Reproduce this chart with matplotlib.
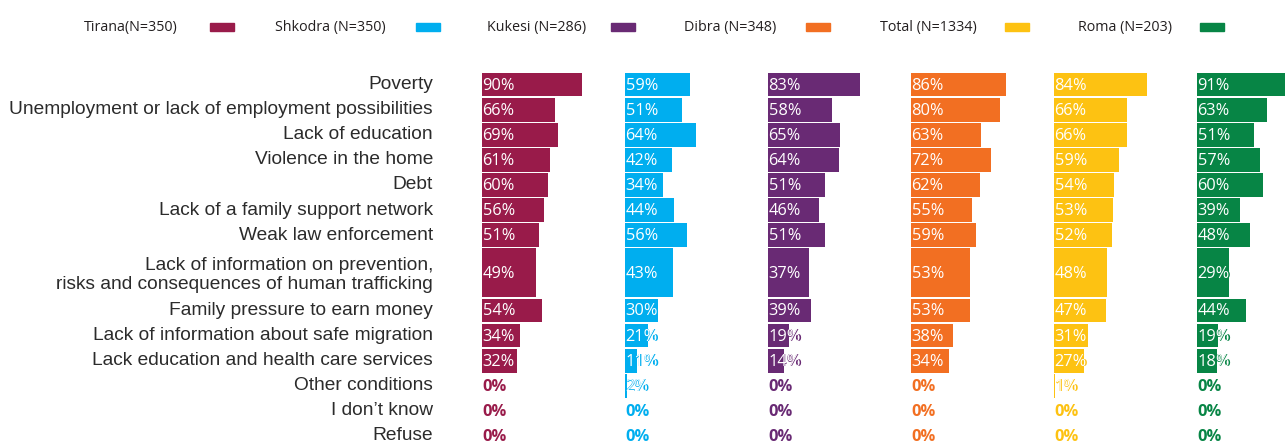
import matplotlib.pyplot as plt
from matplotlib.patches import Rectangle

plt.rcParams['font.family'] = ['Open Sans', 'DejaVu Sans']

categories = ['Poverty', 'Unemployment or lack of employment possibilities', 'Lack of education',
              'Violence in the home', 'Debt', 'Lack of a family support network', 'Weak law enforcement',
              'Lack of information on prevention,\nrisks and consequences of human trafficking',
              'Family pressure to earn money', 'Lack of information about safe migration',
              'Lack education and health care services', 'Other conditions', 'I don\u2019t know', 'Refuse']
groups = ['Tirana(N=350)', 'Shkodra (N=350)', 'Kukesi (N=286)', 'Dibra (N=348)', 'Total (N=1334)', 'Roma (N=203)']
tirana = [90, 66, 69, 61, 60, 56, 51, 49, 54, 34, 32, 0, 0, 0]
shkodra = [59, 51, 64, 42, 34, 44, 56, 43, 30, 21, 11, 2, 0, 0]
kukesi = [83, 58, 65, 64, 51, 46, 51, 37, 39, 19, 14, 0, 0, 0]
dibra = [86, 80, 63, 72, 62, 55, 59, 53, 53, 38, 34, 0, 0, 0]
total = [84, 66, 66, 59, 54, 53, 52, 48, 47, 31, 27, 1, 0, 0]
roma = [91, 63, 51, 57, 60, 39, 48, 29, 44, 19, 18, 0, 0, 0]
series = [tirana, shkodra, kukesi, dibra, total, roma]
colors = ['#991b4a', '#00aeef', '#692a74', '#f26f22', '#fdc212', '#078545']

# row spans: the long two-line label gets a double-height row
spans = [1, 1, 1, 1, 1, 1, 1, 2, 1, 1, 1, 1, 1, 1]
centers = []
acc = 0
for s in spans:
    centers.append(acc + s / 2)
    acc += s

W, H = 1285, 444
fig = plt.figure(figsize=(W / 100, H / 100), dpi=100)

row_px = 25.1
top_px = 72
ax_h = acc * row_px
panel_x0 = 482
panel_w = 143
scale = 1.108  # px per percent

for i, (vals, col) in enumerate(zip(series, colors)):
    x0 = panel_x0 + i * panel_w
    ax = fig.add_axes([x0 / W, (H - top_px - ax_h) / H, panel_w / W, ax_h / H])
    ax.set_xlim(0, panel_w / scale)
    ax.set_ylim(acc, 0)
    ax.axis('off')
    for v, c, s in zip(vals, centers, spans):
        bar = ax.barh(c, v, height=s - 0.05, color=col, linewidth=0)[0]
        # coloured label underneath, white copy clipped to the bar on top
        ax.text(0.5, c + 0.04, f'{v}%', color=col, fontsize=11.8, fontweight='bold',
                va='center', ha='left')
        if v > 0:
            t = ax.text(0.5, c + 0.04, f'{v}%', color='white', fontsize=11.8, va='center', ha='left')
            t.set_clip_path(bar)
    if i == 0:
        for lab, c, s in zip(categories, centers, spans):
            ax.text(-(panel_x0 - 433) / scale, c + (0.1 if s > 1 else 0), lab, ha='right', va='center',
                    fontsize=13.8, color='#2b2b2b', linespacing=1.17, clip_on=False,
                    family=['Liberation Sans', 'DejaVu Sans'])

# legend row at the top
text_right = [178, 386, 586, 776, 977, 1172]
rect_left = [210, 416, 611, 806, 1005, 1200]
for g, tr, rl, col in zip(groups, text_right, rect_left, colors):
    fig.text(tr / W, 1 - 27 / H, g, ha='right', va='center', fontsize=10.3, color='#231f20')
    fig.patches.append(Rectangle((rl / W, 1 - 31 / H), 24 / W, 8 / H,
                                 transform=fig.transFigure, color=col, figure=fig))

fig.savefig('out.png', dpi=100)
